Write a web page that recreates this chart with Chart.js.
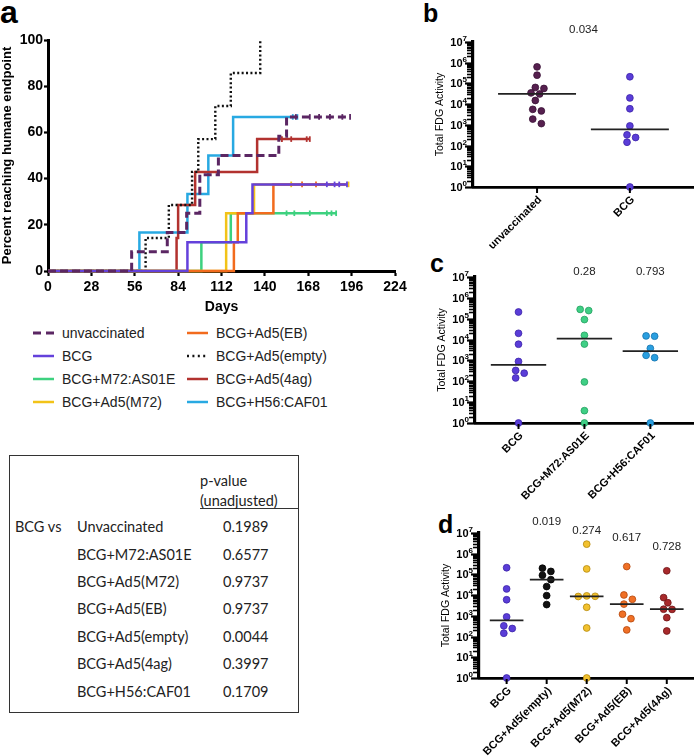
<!DOCTYPE html>
<html><head><meta charset="utf-8">
<script src="https://cdn.jsdelivr.net/npm/chart.js@4.4.1/dist/chart.umd.min.js"></script>
<style>
html,body{margin:0;padding:0;background:#fff}
body{width:698px;height:756px;position:relative;overflow:hidden;font-family:"Liberation Sans",Arial,sans-serif;color:#000}
.abs{position:absolute;white-space:nowrap}
canvas{position:absolute;display:block}
.lg{position:absolute;font:14px "Liberation Sans",Arial,sans-serif;color:#222;line-height:16px;white-space:nowrap}
.tb{position:absolute;font:14.5px Lato,"Open Sans",sans-serif;color:#222;line-height:18px;white-space:nowrap}
</style></head><body>

<div class="abs" style="left:0;top:-4px;font:bold 32px 'Liberation Sans';line-height:32px">a</div>
<div class="abs" style="left:423px;top:1px;font:bold 25px 'Liberation Sans';line-height:25px">b</div>
<div class="abs" style="left:430px;top:251px;font:bold 25px 'Liberation Sans';line-height:25px">c</div>
<div class="abs" style="left:438px;top:512px;font:bold 25px 'Liberation Sans';line-height:25px">d</div>

<canvas id="ca" width="420" height="290" style="left:0;top:30px"></canvas>
<canvas id="cb" width="318" height="270" style="left:380px;top:0"></canvas>
<canvas id="cc" width="318" height="260" style="left:380px;top:240px"></canvas>
<canvas id="cd" width="318" height="261" style="left:380px;top:495px"></canvas>

<div id="legend"></div>

<div style="position:absolute;left:9px;top:455px;width:290px;height:258px;border:1.5px solid #333;box-sizing:border-box"></div>
<div style="position:absolute;left:200px;top:508px;width:98px;height:0;border-top:1.3px solid #333"></div>
<div id="table"></div>

<script>
// ---------- DATA ----------
// Panel a: step curves (day of event, cumulative percent reaching endpoint)
const unvacDays = [0, 54, 77, 89.5, 98, 110, 149, 154, 195];
const unvacPct  = [0, 8.3, 16.7, 25, 41.7, 50, 58.3, 66.7, 66.7];
const unvacCens = [160, 169, 175, 182, 190, 195];

const bcgDays = [0, 90, 128, 132, 193];
const bcgPct  = [0, 12.5, 25, 37.5, 37.5];
const bcgCens = [180, 185, 188, 193];

const m72Days = [0, 99, 118, 186];
const m72Pct  = [0, 12.5, 25, 25];
const m72Cens = [154, 159, 169, 180, 183, 186];

const ad5m72Days = [0, 115, 133, 194];
const ad5m72Pct  = [0, 25, 37.5, 37.5];
const ad5m72Cens = [157, 194];

const ebDays = [0, 120, 122.5, 145.5, 192];
const ebPct  = [0, 12.5, 25, 37.5, 37.5];
const ebCens = [164, 173];

const emptyDays = [0, 63, 78, 93, 97, 108, 118, 137];
const emptyPct  = [0, 14.3, 28.6, 42.9, 57.1, 71.4, 85.7, 100];
const emptyCens = [];

const ag4Days = [0, 83, 84, 95, 135, 169];
const ag4Pct  = [0, 14.3, 28.6, 42.9, 57.1, 57.1];
const ag4Cens = [151, 157, 167, 169];

const h56Days = [0, 59, 90, 103.5, 119.5, 161];
const h56Pct  = [0, 16.7, 33.3, 50, 66.7, 66.7];
const h56Cens = [158, 161];

const dayTicks = [0, 28, 56, 84, 112, 140, 168, 196, 224];

// Panels b–d: Total FDG activity per animal
const unvacFdg  = [6.3e5, 2.5e5, 6.4e4, 5.7e4, 3.5e4, 3.1e4, 1.5e4, 5.6e3, 4.7e3, 1.9e3, 1.15e3];
const bcgFdg    = [2.1e5, 2.0e4, 6.0e3, 890, 330, 245, 145, 1];
const m72Fdg    = [2.8e5, 2.45e5, 9.1e4, 1.6e4, 6.1e3, 93, 3.9, 1];
const h56Fdg    = [1.5e4, 1.45e4, 3.8e3, 1.75e3, 1.35e3, 1];
const emptyFdg  = [2.0e5, 1.4e5, 9.1e4, 5.6e4, 2.6e4, 9.5e3, 3.5e3];
const ad5m72Fdg = [2.9e6, 1.85e5, 9.2e3, 8.8e3, 8.6e3, 2.6e3, 260, 1];
const ebFdg     = [2.4e5, 1.02e4, 6.3e3, 3.7e3, 1.2e3, 730, 210];
const ag4Fdg    = [1.5e5, 7.6e3, 4.3e3, 2.1e3, 2.05e3, 820, 186];

const catsB = ['unvaccinated', 'BCG'];
const catsC = ['BCG', 'BCG+M72:AS01E', 'BCG+H56:CAF01'];
const catsD = ['BCG', 'BCG+Ad5(empty)', 'BCG+Ad5(M72)', 'BCG+Ad5(EB)', 'BCG+Ad5(4Ag)'];
const pvalsB = ['0.034'];
const pvalsC = ['', '0.28', '0.793'];
const pvalsD = ['', '0.019', '0.274', '0.617', '0.728'];

// Table
const tableNames  = ['Unvaccinated', 'BCG+M72:AS01E', 'BCG+Ad5(M72)', 'BCG+Ad5(EB)', 'BCG+Ad5(empty)', 'BCG+Ad5(4ag)', 'BCG+H56:CAF01'];
const tablePvals  = ['0.1989', '0.6577', '0.9737', '0.9737', '0.0044', '0.3997', '0.1709'];

// ---------- STYLES ----------
const C = {
  unvac: '#5b2663', bcg: '#6441db', m72: '#3dd17f', ad5m72: '#f2c318',
  eb: '#f26b1d', empty: '#111111', ag4: '#b2322f', h56: '#28a9e2'
};
const D = {
  unvac: ['#56204f', '#3a1236'], bcg: ['#5a3dd8', '#3d25a8'], m72: ['#3fcf85', '#23a060'],
  h56: ['#2a9fe0', '#1673ad'], empty: ['#111', '#000'], ad5m72: ['#f2c12e', '#b58a10'],
  eb: ['#f07026', '#b4480e'], ag4: ['#a8292b', '#6e1416']
};

// ---------- PANEL a ----------
const seriesA = [
  {days:unvacDays, pct:unvacPct, cens:unvacCens, color:C.unvac, dash:[8,4], w:3},
  {days:bcgDays, pct:bcgPct, cens:bcgCens, color:C.bcg, dash:[], w:2.5},
  {days:ebDays, pct:ebPct, cens:ebCens, color:C.eb, dash:[], w:2.5},
  {days:ad5m72Days, pct:ad5m72Pct, cens:ad5m72Cens, color:C.ad5m72, dash:[], w:2.5},
  {days:m72Days, pct:m72Pct, cens:m72Cens, color:C.m72, dash:[], w:2.5},
  {days:emptyDays, pct:emptyPct, cens:emptyCens, color:C.empty, dash:[2,2.4], w:2.4},
  {days:ag4Days, pct:ag4Pct, cens:ag4Cens, color:C.ag4, dash:[], w:2.5},
  {days:h56Days, pct:h56Pct, cens:h56Cens, color:C.h56, dash:[], w:2.5}
];
const dsA = [];
seriesA.forEach(s => {
  const last = s.pct[s.pct.length - 1];
  dsA.push({
    data: s.cens.map(d => ({x:d, y:last})), showLine:false, pointStyle:'line', rotation:90,
    pointRadius:2.8, borderWidth:1.8, borderColor:s.color, backgroundColor:s.color, clip:false
  });
  dsA.push({
    data: s.days.map((d,i) => ({x:d, y:s.pct[i]})), showLine:true, stepped:'before',
    pointRadius:0, borderColor:s.color, borderWidth:s.w, borderDash:s.dash, fill:false, clip:false
  });
});
const boldTick = {family:'Liberation Sans', weight:'bold', size:14};
new Chart(document.getElementById('ca'), {
  type:'scatter',
  data:{datasets:dsA},
  options:{
    responsive:false, animation:false, events:[],
    layout:{padding:{top:10, right:25, left:0, bottom:0}},
    plugins:{legend:{display:false}, tooltip:{enabled:false}},
    scales:{
      x:{type:'linear', min:dayTicks[0], max:dayTicks[dayTicks.length-1],
        afterBuildTicks(s){ s.ticks = dayTicks.map(v => ({value:v})); },
        ticks:{color:'#000', font:boldTick, padding:3, maxRotation:0, autoSkip:false},
        grid:{display:true, drawOnChartArea:false, drawTicks:true, tickLength:5, tickWidth:2.2, tickColor:'#000'},
        border:{display:true, width:3, color:'#000'},
        title:{display:true, text:'Days', color:'#000', font:boldTick, padding:{top:4, bottom:4}},
        afterFit(s){ s.height = 49; }
      },
      y:{type:'linear', min:0, max:100,
        ticks:{stepSize:20, color:'#000', font:boldTick, padding:1},
        grid:{display:true, drawOnChartArea:false, drawTicks:true, tickLength:4, tickWidth:2.2, tickColor:'#000'},
        border:{display:true, width:3, color:'#000'},
        title:{display:true, text:'Percent reaching humane endpoint', color:'#000',
          font:{family:'Liberation Sans', weight:'bold', size:13}, padding:{top:0, bottom:0}},
        afterFit(s){ s.width = 48; }
      }
    }
  }
});

// ---------- LEGEND ----------
const legendItems = [
  ['unvaccinated', C.unvac, '8,5', 3, 33, 333], ['BCG', C.bcg, '', 2.5, 33, 356],
  ['BCG+M72:AS01E', C.m72, '', 2.5, 33, 379], ['BCG+Ad5(M72)', C.ad5m72, '', 2.5, 33, 402],
  ['BCG+Ad5(EB)', C.eb, '', 2.5, 187, 333], ['BCG+Ad5(empty)', C.empty, '2,3.4', 2.4, 187, 356],
  ['BCG+Ad5(4ag)', C.ag4, '', 2.5, 187, 379], ['BCG+H56:CAF01', C.h56, '', 2.5, 187, 402]
];
let lg = '';
legendItems.forEach(([t, c, dash, w, x, y]) => {
  lg += `<svg style="position:absolute;left:${x}px;top:${y-5}px" width="22" height="10"><line x1="0" y1="5" x2="21" y2="5" stroke="${c}" stroke-width="${w}" ${dash?`stroke-dasharray="${dash}"`:''}/></svg>`;
  lg += `<div class="lg" style="left:${x+29}px;top:${y-8}px">${t}</div>`;
});
document.getElementById('legend').innerHTML = lg;

// ---------- TABLE ----------
let tb = '';
tb += `<div class="tb" style="left:200px;top:472px">p-value</div>`;
tb += `<div class="tb" style="left:200px;top:492px">(unadjusted)</div>`;
tb += `<div class="tb" style="left:15px;top:518px">BCG vs</div>`;
const rowY = [527, 555, 582, 609, 637, 664, 692];
tableNames.forEach((n, i) => {
  tb += `<div class="tb" style="left:77px;top:${rowY[i]-9}px">${n}</div>`;
  tb += `<div class="tb" style="left:223px;top:${rowY[i]-9}px">${tablePvals[i]}</div>`;
});
document.getElementById('table').innerHTML = tb;

// ---------- PANELS b, c, d ----------
function median(arr){
  const s = [...arr].sort((a,b)=>a-b), n = s.length;
  return n % 2 ? s[(n-1)/2] : (s[n/2-1] + s[n/2]) / 2;
}
function swarm(values, cat, pxPerUnit, pxPerDecade){
  const minD = 6.6, step = 4.3;
  const pts = values.map(v => ({v, py: Math.log10(v) * pxPerDecade, dx: 0}));
  const order = [...pts].sort((a,b) => b.py - a.py);
  const placed = [];
  order.forEach(p => {
    for (let k = 0; k < 30; k++){
      const c = k === 0 ? 0 : (k % 2 ? 1 : -1) * Math.ceil(k/2) * step;
      if (placed.every(q => (q.dx - c)**2 + (q.py - p.py)**2 >= minD*minD)) { p.dx = c; break; }
    }
    placed.push(p);
  });
  let grp = [order[0]];
  const flush = () => { const m = grp.reduce((s,q)=>s+q.dx,0)/grp.length; grp.forEach(q => q.dx -= m); };
  for (let j = 1; j < order.length; j++){
    if (order[j-1].py - order[j].py < minD) grp.push(order[j]); else { flush(); grp = [order[j]]; }
  }
  flush();
  return pts.map(p => ({x: cat + p.dx / pxPerUnit, y: p.v}));
}

function fdgChart(id, canvasRect, area, xmin, xmax, groups, cats, pvals, pvalPos){
  const pxPerUnit = (area.right - area.left) / (xmax - xmin);
  const pxPerDecade = (area.bottom - area.top) / 7;
  const ds = [];
  groups.forEach((g, i) => {
    const m = median(g.values);
    ds.push({data:[{x:i-0.42, y:m}, {x:i+0.42, y:m}], showLine:true, pointRadius:0,
      borderColor:'#222', borderWidth:1.8, clip:false});
  });
  groups.forEach((g, i) => {
    ds.push({data: swarm(g.values, i, pxPerUnit, pxPerDecade), showLine:false,
      pointRadius:3.4, backgroundColor:g.col[0], borderColor:g.col[1], borderWidth:0.8, clip:false});
  });
  const plugin = {
    id:'fdg'+id,
    afterDraw(chart){
      const ctx = chart.ctx, y = chart.scales.y, x = chart.scales.x, a = chart.chartArea;
      ctx.save();
      ctx.fillStyle = '#000'; ctx.strokeStyle = '#000';
      for (let e = 0; e <= 7; e++){
        for (let m = 1; m <= 9; m++){
          if (e === 7 && m > 1) break;
          const py = Math.round(y.getPixelForValue(m * Math.pow(10, e))) + 0.5;
          ctx.lineWidth = m === 1 ? 2.2 : 1.6;
          const len = m === 1 ? 7 : 5;
          ctx.beginPath(); ctx.moveTo(a.left - 1, py); ctx.lineTo(a.left - 1 - len, py); ctx.stroke();
        }
        const py = y.getPixelForValue(Math.pow(10, e));
        ctx.font = 'bold 8px "Liberation Sans"';
        const ew = ctx.measureText(String(e)).width;
        const xr = a.left - 6;
        ctx.textAlign = 'left'; ctx.textBaseline = 'alphabetic';
        ctx.fillText(String(e), xr - ew, py - 1);
        ctx.font = 'bold 11px "Liberation Sans"'; ctx.textAlign = 'right';
        ctx.fillText('10', xr - ew, py + 4);
      }
      ctx.save();
      ctx.translate(a.left - 33, (a.top + a.bottom) / 2);
      ctx.rotate(-Math.PI/2);
      ctx.font = '10.5px "Liberation Sans"'; ctx.textAlign = 'center'; ctx.textBaseline = 'middle';
      ctx.fillText('Total FDG Activity', 0, 0);
      ctx.restore();
      cats.forEach((c, i) => {
        const px = x.getPixelForValue(i);
        ctx.lineWidth = 2;
        ctx.beginPath(); ctx.moveTo(px, a.bottom + 1); ctx.lineTo(px, a.bottom + 6); ctx.stroke();
        ctx.save();
        ctx.translate(px + 3, a.bottom + 11);
        ctx.rotate(-Math.PI/4);
        ctx.font = 'bold 11px "Liberation Sans"'; ctx.textAlign = 'right'; ctx.textBaseline = 'middle';
        ctx.fillText(c, 0, 0);
        ctx.restore();
      });
      ctx.font = '11.5px "Liberation Sans"'; ctx.textAlign = 'center'; ctx.textBaseline = 'middle';
      ctx.fillStyle = '#222';
      pvals.forEach((p, i) => {
        if (!p) return;
        const [cx, dy] = pvalPos[i];
        ctx.fillText(p, x.getPixelForValue(cx), a.top + dy);
      });
      ctx.restore();
    }
  };
  new Chart(document.getElementById(id), {
    type:'scatter',
    data:{datasets:ds},
    plugins:[plugin],
    options:{
      responsive:false, animation:false, events:[],
      layout:{padding:{top: area.top - canvasRect.top, right: canvasRect.left + canvasRect.w - area.right, left:0, bottom:0}},
      plugins:{legend:{display:false}, tooltip:{enabled:false}},
      scales:{
        x:{type:'linear', min:xmin, max:xmax, ticks:{display:false}, grid:{display:false},
          border:{display:true, width:2.8, color:'#000'},
          afterFit(s){ s.height = canvasRect.top + canvasRect.h - area.bottom; }},
        y:{type:'logarithmic', min:1, max:1e7, ticks:{display:false}, grid:{display:false},
          border:{display:true, width:3.2, color:'#000'},
          afterFit(s){ s.width = area.left - canvasRect.left; }}
      }
    }
  });
}

fdgChart('cb', {left:380, top:0, w:318, h:270}, {left:473, top:42, right:693, bottom:187}, -0.69, 1.68,
  [{values:unvacFdg, col:D.unvac}, {values:bcgFdg, col:D.bcg}], catsB, pvalsB, [[0.5, -12]]);

fdgChart('cc', {left:380, top:240, w:318, h:260}, {left:475, top:277, right:695, bottom:423}, -0.66, 2.65,
  [{values:bcgFdg, col:D.bcg}, {values:m72Fdg, col:D.m72}, {values:h56Fdg, col:D.h56}],
  catsC, pvalsC, [[0,0], [1,-5], [2,-5]]);

fdgChart('cd', {left:380, top:495, w:318, h:261}, {left:479, top:533, right:697, bottom:678}, -0.69, 4.66,
  [{values:bcgFdg, col:D.bcg}, {values:emptyFdg, col:D.empty}, {values:ad5m72Fdg, col:D.ad5m72},
   {values:ebFdg, col:D.eb}, {values:ag4Fdg, col:D.ag4}],
  catsD, pvalsD, [[0,0], [1,-11], [2,-2], [3,5], [4,14]]);
</script>
</body></html>
